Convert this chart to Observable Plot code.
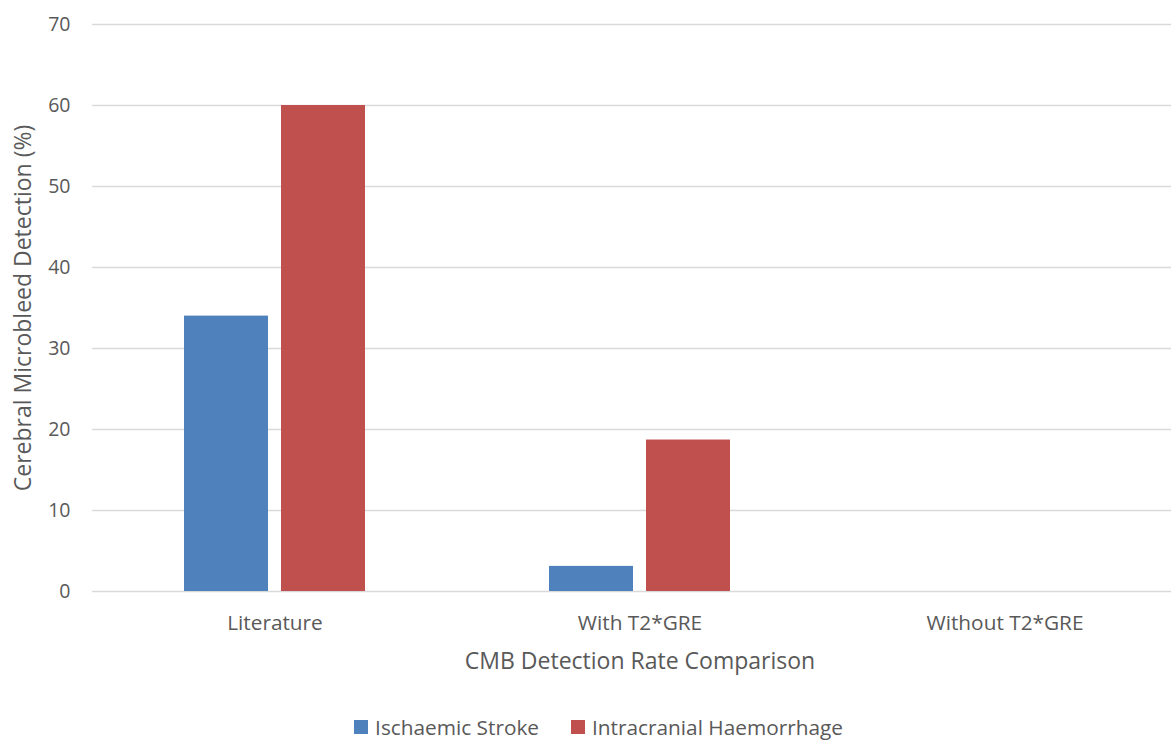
<!DOCTYPE html>
<html>
<head>
<meta charset="utf-8">
<script src="https://cdn.jsdelivr.net/npm/d3@7"></script>
<script src="https://cdn.jsdelivr.net/npm/@observablehq/plot@0.6"></script>
<style>
  body { margin: 0; background: #fff; font-family: "Open Sans", sans-serif; overflow: hidden; width: 1187px; }
  #legend { display: flex; justify-content: center; gap: 32px; font-size: 20.8px; line-height: 26px; color: #595959; height: 26px; align-items: center; padding-left: 10px; margin-top: 10px; }
  #legend .item { display: flex; align-items: center; gap: 7px; }
  #legend .sw { width: 14px; height: 14px; display: inline-block; }
</style>
</head>
<body>
<div id="chart"></div>
<div id="legend"></div>
<script>
const categories = ["Literature", "With T2*GRE", "Without T2*GRE"];
const seriesNames = ["Ischaemic Stroke", "Intracranial Haemorrhage"];
const ischaemic = [34, 3.1, 0];
const haemorrhage = [60, 18.7, 0];
const colors = ["#4f81bd", "#c0504d"];
const yTicks = [0, 10, 20, 30, 40, 50, 60, 70];
const xTitle = "CMB Detection Rate Comparison";
const yTitle = "Cerebral Microbleed Detection (%)";

const data = [];
categories.forEach((c, i) => {
  data.push({category: c, series: seriesNames[0], value: ischaemic[i]});
  data.push({category: c, series: seriesNames[1], value: haemorrhage[i]});
});

const textColor = "#595959";
const plot = Plot.plot({
  width: 1187,
  height: 704,
  marginTop: 24,
  marginBottom: 113,
  marginLeft: 91,
  marginRight: 0,
  style: {fontFamily: "Open Sans, sans-serif", color: textColor, background: "#fff"},
  fx: {domain: categories, padding: 0, label: null},
  x: {domain: seriesNames, paddingInner: 0.1376, paddingOuter: 0.9446, axis: null},
  y: {domain: [0, 70], ticks: yTicks, label: null},
  color: {domain: seriesNames, range: colors},
  marks: [
    Plot.ruleY(yTicks, {stroke: "#d9d9d9", strokeWidth: 1.5}),
    Plot.barY(data, {fx: "category", x: "series", y: "value", fill: "series"}),
    Plot.axisY({ticks: yTicks, tickSize: 0, tickPadding: 22, fontSize: 19.5, fill: textColor, label: null}),
    Plot.axisFx({anchor: "bottom", tickSize: 0, tickPadding: 24, fontSize: 20.8, fill: textColor, label: null}),
    Plot.text([categories[0]], {fx: d => d, text: () => yTitle, frameAnchor: "left", textAnchor: "middle", dx: -69, rotate: -90, fontSize: 23, fill: textColor}),
    Plot.text([categories[1]], {fx: d => d, text: () => xTitle, frameAnchor: "bottom", dy: 77, fontSize: 23, fill: textColor})
  ]
});
document.getElementById("chart").appendChild(plot);

const legend = document.getElementById("legend");
seriesNames.forEach((s, i) => {
  const item = document.createElement("span");
  item.className = "item";
  item.innerHTML = `<span class="sw" style="background:${colors[i]}"></span><span>${s}</span>`;
  legend.appendChild(item);
});
</script>
</body>
</html>
